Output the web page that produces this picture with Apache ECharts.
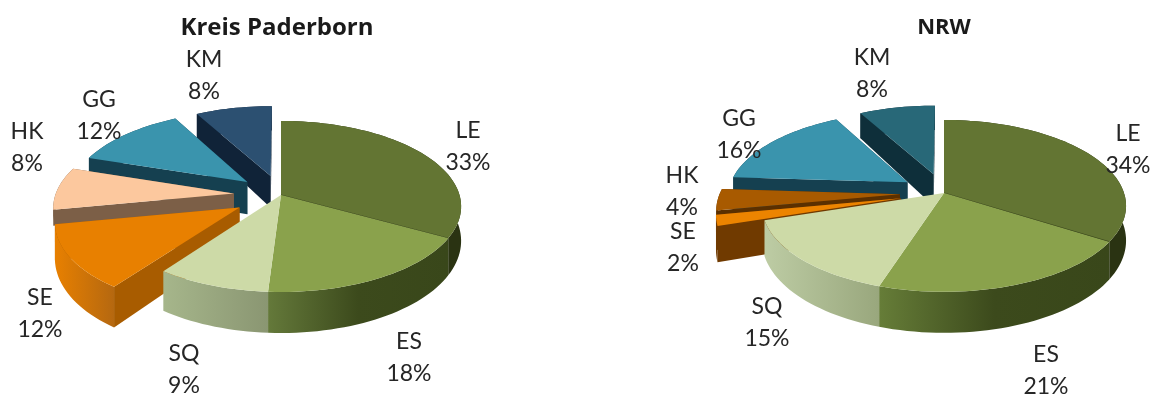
<!DOCTYPE html>
<html>
<head>
<meta charset="utf-8">
<style>html,body{margin:0;padding:0;background:#fff}#chart{width:1159px;height:394px}</style>
<script src="https://cdn.jsdelivr.net/npm/echarts@6/dist/echarts.min.js"></script>
</head>
<body>
<div id="chart"></div>
<script>
// Land-use shares, in percent, clockwise from twelve o'clock
const categories = ['LE', 'ES', 'SQ', 'SE', 'HK', 'GG', 'KM'];
const paderbornShares = [33, 18, 9, 12, 8, 12, 8];
const nrwShares = [34, 21, 15, 2, 4, 16, 8];
// Far slices are painted first so nearer ones overlap them
const paintOrder = ['KM', 'GG', 'HK', 'SE', 'LE', 'ES', 'SQ'];

const paderbornColors = {
  LE: { top: '#637533', wall: ['#2a3312', '#2a3312'], cut: '#2a3312' },
  ES: { top: '#8aa24c', wall: ['#64793a', '#3c4a1c', '#39471a'], cut: '#3c4a1c' },
  SQ: { top: '#cddaa7', wall: ['#a6b68b', '#8a9672'], cut: '#8a9672' },
  SE: { top: '#e88000', wall: ['#e88000', '#b56810'], cut: '#a85c00' },
  HK: { top: '#fcc89e', wall: ['#7c5f47', '#7c5f47'], cut: '#7c5f47', depth: 0.46 },
  GG: { top: '#3a94ad', wall: ['#154050', '#154050'], cut: '#154050' },
  KM: { top: '#2c5071', wall: ['#102338', '#102338'], cut: '#102338' }
};
const nrwColors = {
  LE: { top: '#637533', wall: ['#2a3312', '#2a3312'], cut: '#2a3312' },
  ES: { top: '#8aa24c', wall: ['#667d38', '#3c4a1c', '#39471a'], cut: '#3c4a1c' },
  SQ: { top: '#cddaa7', wall: ['#bdcca4', '#99a77d'], cut: '#99a77d' },
  SE: { top: '#ec8400', wall: ['#703a00', '#703a00'], cut: '#703a00' },
  HK: { top: '#a85a00', wall: ['#5b3000', '#5b3000'], cut: '#5b3000', depth: 0.35 },
  GG: { top: '#3a94ad', wall: ['#154050', '#154050'], cut: '#154050' },
  KM: { top: '#286878', wall: ['#0e2f3a', '#0e2f3a'], cut: '#0e2f3a' }
};

// How far each slice is pulled out of the pie, as a fraction of the radius
const paderbornPull = { LE: 0, ES: 0, SQ: 0, SE: 0.27, HK: 0.265, GG: 0.25, KM: 0.24 };
const nrwPull = { LE: 0, ES: 0, SQ: 0, SE: 0.245, HK: 0.245, GG: 0.245, KM: 0.24 };

// Centre of each two-line data label
const paderbornLabelAt = { LE: [468, 147], ES: [409, 358], SQ: [184, 370], SE: [40, 314], HK: [27, 148], GG: [99, 116], KM: [204, 76] };
const nrwLabelAt = { LE: [1128, 150], ES: [1046, 371], SQ: [767, 323], SE: [683, 248], HK: [682, 192], GG: [739, 135], KM: [872, 74] };

const paderbornView = { cx: 281, cy: 195, a: 178.5, b: 84, tilt: 0.134 };
const nrwView = { cx: 944, cy: 193, a: 180, b: 84, tilt: 0.15 };
const LABEL_FONT = 'Lato, "Open Sans", sans-serif';
const TITLE_FONT = '"Open Sans", Lato, sans-serif';

// Maps a point of the unit disc to the screen with a simple perspective;
// lower is the fraction of the slab thickness to drop the point by.
function projector(view) {
  return function (u, v, lower) {
    const w = 1 - view.tilt * v;
    return [
      view.cx + view.a * u / w,
      view.cy + view.b * v / w + lower * (33.5 + 7.5 * v)
    ];
  };
}

function unitPoint(turn) {
  const rad = turn * Math.PI * 2;
  return [Math.sin(rad), -Math.cos(rad)];
}

function polygon(points, fill) {
  return { type: 'polygon', shape: { points: points }, style: { fill: fill, stroke: null } };
}

function sideGradient(stops) {
  return {
    type: 'linear', x: 0, y: 0, x2: 1, y2: 0,
    colorStops: stops.map((color, i) => ({ offset: i === 0 ? 0 : (stops.length === 3 && i === 1 ? 0.5 : 1), color: color }))
  };
}

function sliceSeries(shares, colors, view, pulls) {
  const project = projector(view);
  const total = shares.reduce((s, x) => s + x, 0);
  let running = 0;
  const starts = shares.map(share => { const s = running; running += share; return s; });
  return {
    type: 'custom',
    coordinateSystem: 'none',
    silent: true,
    z: 2,
    data: paintOrder.map(name => {
      const i = categories.indexOf(name);
      return { name: name, value: [starts[i], shares[i], pulls[name]] };
    }),
    renderItem: function (params, api) {
      const name = paintOrder[params.dataIndex];
      const from = api.value(0) / total;
      const to = from + api.value(1) / total;
      const pull = api.value(2);
      const mid = unitPoint((from + to) / 2);
      const ox = mid[0] * pull, oy = mid[1] * pull;
      const arc = [];
      const steps = Math.max(2, Math.ceil((to - from) * 180));
      for (let k = 0; k <= steps; k++) {
        const p = unitPoint(from + (to - from) * k / steps);
        arc.push([p[0] + ox, p[1] + oy]);
      }
      const first = arc[0], last = arc[arc.length - 1];
      const c = colors[name];
      const drop = c.depth === undefined ? 1 : c.depth;
      const at = lower => pt => project(pt[0], pt[1], lower);
      const apex = [ox, oy];
      const children = [];
      // Only a pulled-out slice shows its cut faces
      if (pull > 0) {
        children.push(polygon([apex, last].map(at(0)).concat([last, apex].map(at(drop))), c.cut));
        children.push(polygon([apex, first].map(at(0)).concat([first, apex].map(at(drop))), c.cut));
      }
      children.push(polygon(arc.map(at(0)).concat(arc.slice().reverse().map(at(drop))), sideGradient(c.wall)));
      children.push(polygon([apex].concat(arc).map(at(0)), c.top));
      if (name === 'LE') {
        const p0 = project(ox, oy, 0), p1 = project(last[0], last[1], 0);
        children.push({
          type: 'line',
          shape: { x1: p0[0], y1: p0[1], x2: p1[0], y2: p1[1] },
          style: { stroke: '#3f4c1e', lineWidth: 1.2 }
        });
      }
      return { type: 'group', children: children };
    }
  };
}

function labelSeries(shares, labelAt) {
  return {
    type: 'custom',
    coordinateSystem: 'none',
    silent: true,
    z: 5,
    data: categories.map((name, i) => ({ name: name, value: [shares[i]] })),
    renderItem: function (params, api) {
      const name = categories[params.dataIndex];
      const at = labelAt[name];
      return {
        type: 'text',
        x: at[0],
        y: at[1],
        style: {
          text: name + '\n' + api.value(0) + '%',
          fill: '#262626',
          font: '23px ' + LABEL_FONT,
          lineHeight: 32,
          align: 'center',
          verticalAlign: 'middle'
        }
      };
    }
  };
}

const chart = echarts.init(document.getElementById('chart'), null, { renderer: 'canvas', width: 1159, height: 394 });
chart.setOption({
  animation: false,
  backgroundColor: '#ffffff',
  title: [
    { text: 'Kreis Paderborn', left: 277, top: 28, padding: 0, textAlign: 'center', textVerticalAlign: 'middle',
      textStyle: { fontFamily: TITLE_FONT, fontWeight: 'bold', fontSize: 24, color: '#1a1a1a' } },
    { text: 'NRW', left: 944, top: 28, padding: 0, textAlign: 'center', textVerticalAlign: 'middle',
      textStyle: { fontFamily: TITLE_FONT, fontWeight: 'bold', fontSize: 22, color: '#1a1a1a' } }
  ],
  series: [
    sliceSeries(paderbornShares, paderbornColors, paderbornView, paderbornPull),
    sliceSeries(nrwShares, nrwColors, nrwView, nrwPull),
    labelSeries(paderbornShares, paderbornLabelAt),
    labelSeries(nrwShares, nrwLabelAt)
  ]
});
</script>
</body>
</html>
